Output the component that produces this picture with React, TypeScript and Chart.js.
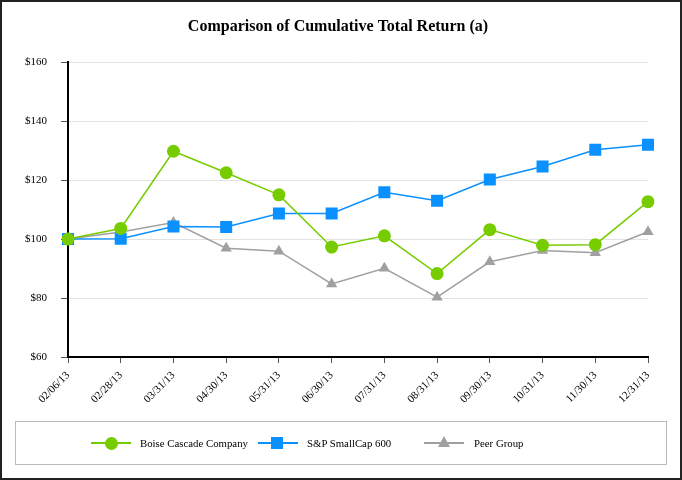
import React, { useEffect, useRef } from "react";
import { Chart, registerables } from "chart.js";

Chart.register(...registerables);

const categories = [
  "02/06/13", "02/28/13", "03/31/13", "04/30/13", "05/31/13", "06/30/13",
  "07/31/13", "08/31/13", "09/30/13", "10/31/13", "11/30/13", "12/31/13",
];
const boiseValues = [100, 103.6, 129.8, 122.5, 115.0, 97.3, 101.1, 88.3, 103.2, 97.9, 98.1, 112.7];
const spValues = [100, 100.1, 104.3, 104.1, 108.7, 108.7, 115.9, 113.0, 120.2, 124.6, 130.3, 132.0];
const peerValues = [100, 102.4, 105.6, 96.9, 95.9, 84.8, 90.1, 80.3, 92.3, 96.1, 95.4, 102.5];
const yTicks = [60, 80, 100, 120, 140, 160];

const GREEN = "#77CC00";
const BLUE = "#0A90FF";
const GRAY = "#A0A0A0";
const FONT = "'Liberation Serif', 'Times New Roman', serif";

export default function App() {
  const ref = useRef<HTMLCanvasElement | null>(null);

  useEffect(() => {
    document.body.style.margin = "0";
    const ctx = ref.current;
    if (!ctx) return;
    const chart = new Chart(ctx, {
      type: "line",
      data: {
        labels: categories,
        datasets: [
          {
            label: "Boise Cascade Company",
            data: boiseValues,
            borderColor: GREEN,
            backgroundColor: GREEN,
            borderWidth: 1.5,
            pointStyle: "circle",
            pointRadius: 6.5,
            pointHoverRadius: 6.5,
            pointBorderWidth: 0,
            tension: 0,
          },
          {
            label: "S&P SmallCap 600",
            data: spValues,
            borderColor: BLUE,
            backgroundColor: BLUE,
            borderWidth: 1.5,
            pointStyle: "rect",
            pointRadius: 8.5,
            pointHoverRadius: 8.5,
            pointBorderWidth: 0,
            tension: 0,
          },
          {
            label: "Peer Group",
            data: peerValues,
            borderColor: GRAY,
            backgroundColor: GRAY,
            borderWidth: 1.5,
            pointStyle: "triangle",
            pointRadius: 6.5,
            pointHoverRadius: 6.5,
            pointBorderWidth: 0,
            tension: 0,
          },
        ],
      },
      options: {
        responsive: false,
        animation: false,
        layout: { padding: { left: 0, right: 6, top: 0, bottom: 0 } },
        plugins: {
          legend: { display: false },
          tooltip: { enabled: false },
          title: {
            display: true,
            text: "Comparison of Cumulative Total Return (a)",
            color: "#000",
            font: { family: FONT, size: 16, weight: "bold", lineHeight: 1.2 },
            padding: { top: 17, bottom: 26 },
          },
        },
        scales: {
          x: {
            offset: false,
            grid: {
              drawOnChartArea: false,
              drawTicks: true,
              tickLength: 6,
              tickColor: "#555",
              tickWidth: 1,
            },
            border: { color: "#000", width: 2 },
            ticks: {
              color: "#000",
              font: { family: FONT, size: 11 },
              maxRotation: 45,
              minRotation: 45,
              autoSkip: false,
              padding: 6,
            },
            afterFit: (s: any) => {
              s.height = 123;
            },
          },
          y: {
            min: 60,
            max: 160,
            afterBuildTicks: (s: any) => {
              s.ticks = yTicks.map((v) => ({ value: v }));
            },
            grid: {
              color: "#E2E2E2",
              lineWidth: 1,
              tickLength: 7,
              tickColor: "#555",
              tickWidth: 1,
            },
            border: { color: "#000", width: 2 },
            ticks: {
              color: "#000",
              font: { family: FONT, size: 11 },
              padding: 14,
              callback: (v: any) => "$" + v,
            },
            afterFit: (s: any) => {
              s.width = 68;
            },
          },
          yRight: {
            position: "right",
            display: true,
            grid: { display: false, drawTicks: false },
            border: { display: false },
            ticks: { display: false },
            afterFit: (s: any) => {
              s.width = 28;
            },
          },
        },
      },
    });
    return () => chart.destroy();
  }, []);

  const textStyle: React.CSSProperties = {
    position: "absolute",
    top: 435,
    fontFamily: FONT,
    fontSize: 10.8,
    color: "#000",
    lineHeight: "16px",
    whiteSpace: "nowrap",
  };
  const line = (left: number, color: string): React.CSSProperties => ({
    position: "absolute",
    left,
    top: 442,
    width: 40,
    height: 2,
    background: color,
  });

  return (
    <div style={{ position: "absolute", left: 0, top: 0, width: 682, height: 480, background: "#fff" }}>
      <canvas ref={ref} width={682} height={480} style={{ position: "absolute", left: 0, top: 0 }} />
      <div
        style={{
          position: "absolute",
          left: 15,
          top: 421,
          width: 652,
          height: 44,
          border: "1px solid #BBBBBB",
          boxSizing: "border-box",
        }}
      />
      <div style={line(91, GREEN)} />
      <div
        style={{
          position: "absolute",
          left: 104.5,
          top: 436.5,
          width: 13,
          height: 13,
          borderRadius: "50%",
          background: GREEN,
        }}
      />
      <div style={{ ...textStyle, left: 140 }}>Boise Cascade Company</div>
      <div style={line(258, BLUE)} />
      <div
        style={{ position: "absolute", left: 271, top: 437, width: 12, height: 12, background: BLUE }}
      />
      <div style={{ ...textStyle, left: 307 }}>S&amp;P SmallCap 600</div>
      <div style={line(424, GRAY)} />
      <svg style={{ position: "absolute", left: 438, top: 436 }} width={12} height={12}>
        <polygon points="6,0 12,11 0,11" fill={GRAY} />
      </svg>
      <div style={{ ...textStyle, left: 474 }}>Peer Group</div>
      <div
        style={{
          position: "absolute",
          left: 0,
          top: 0,
          width: 682,
          height: 480,
          border: "2px solid #222",
          boxSizing: "border-box",
          pointerEvents: "none",
        }}
      />
    </div>
  );
}
